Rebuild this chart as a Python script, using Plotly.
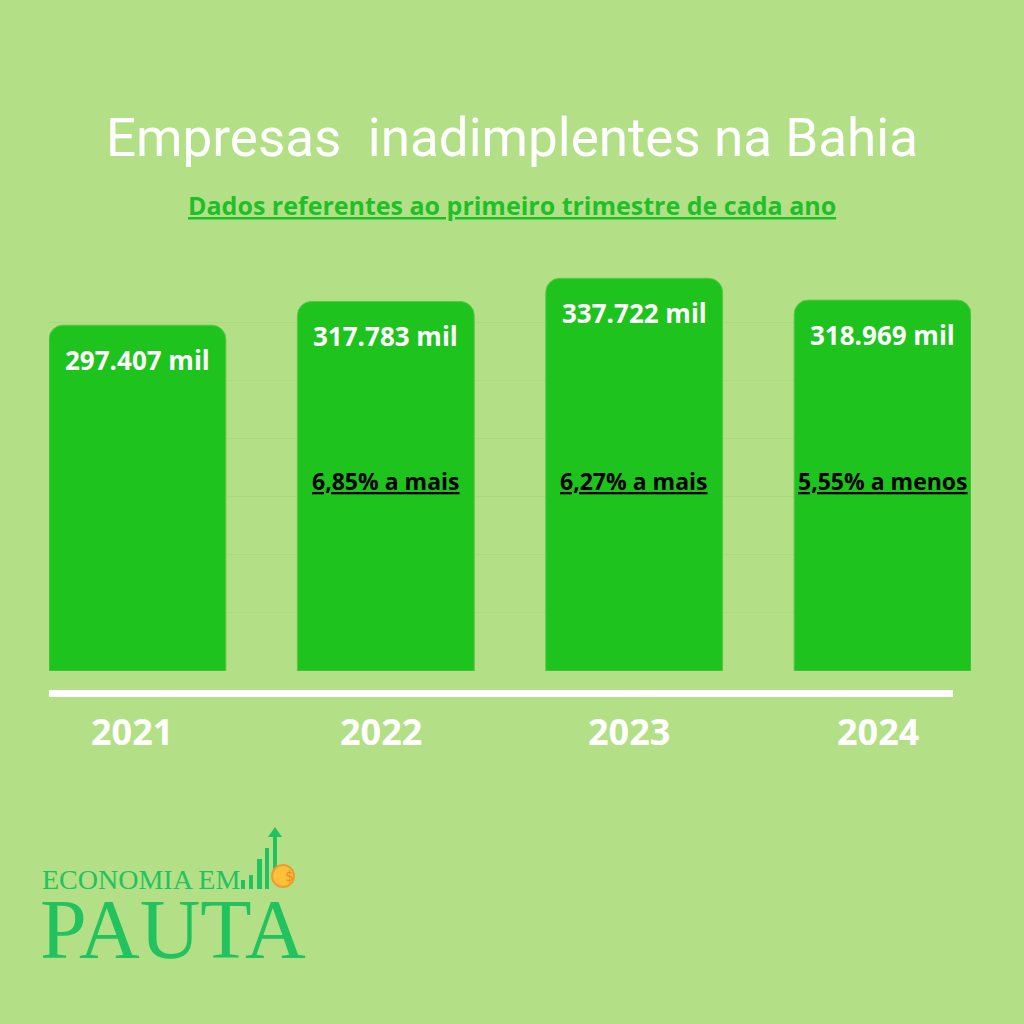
import plotly.graph_objects as go

years = ["2021", "2022", "2023", "2024"]
values = [297.407, 317.783, 337.722, 318.969]  # thousands of companies
value_labels = ["297.407 mil", "317.783 mil", "337.722 mil", "318.969 mil"]
change_labels = ["", "6,85% a mais", "6,27% a mais", "5,55% a menos"]

BG = "#b3e086"
BAR = "#1ec31e"
W = 1024

fig = go.Figure()
fig.add_trace(go.Bar(
    x=years, y=values, width=0.712,
    marker=dict(color=BAR, cornerradius=14, line=dict(color="#5cc84a", width=1)),
    hoverinfo="skip",
))

annotations = []
for i, (v, lbl) in enumerate(zip(values, value_labels)):
    annotations.append(dict(x=i, y=v, xref="x", yref="y", text=f"<b>{lbl}</b>",
                            showarrow=False, yanchor="top", yshift=-15,
                            font=dict(family="Open Sans", size=26, color="white")))
for i, lbl in enumerate(change_labels):
    if lbl:
        annotations.append(dict(x=i, y=1 - 481 / W, xref="x", yref="paper",
                                text=f"<b><u>{lbl}</u></b>", showarrow=False,
                                yanchor="middle",
                                font=dict(family="Open Sans", size=23, color="black")))
for i, yr in enumerate(years):
    annotations.append(dict(x=i, y=1 - 731 / W, xref="x", yref="paper",
                            text=f"<b>{yr}</b>", showarrow=False, yanchor="middle",
                            xshift=-5,
                            font=dict(family="Open Sans", size=36, color="white")))

# title and subtitle
annotations.append(dict(x=0.5, y=1 - 138 / W, xref="paper", yref="paper",
                        text="Empresas  inadimplentes na Bahia", showarrow=False,
                        yanchor="middle",
                        font=dict(family="Roboto", size=53, color="white")))
annotations.append(dict(x=0.5, y=1 - 205 / W, xref="paper", yref="paper",
                        text="<b><u>Dados referentes ao primeiro trimestre de cada ano</u></b>",
                        showarrow=False, yanchor="middle",
                        font=dict(family="Open Sans", size=25, color="#1fbf2a")))

# logo text
LOGO = "#22c35e"
annotations.append(dict(x=40 / W, y=1 - 879 / W, xref="paper", yref="paper",
                        text="ECONOMIA EM", showarrow=False, xanchor="left", yanchor="middle",
                        height=26,
                        font=dict(family="Liberation Serif", size=28, color=LOGO)))
annotations.append(dict(x=38 / W, y=1 - 929 / W, xref="paper", yref="paper",
                        text="PAUTA", showarrow=False, xanchor="left", yanchor="middle",
                        height=74,
                        font=dict(family="Liberation Serif", size=84, color=LOGO)))

shapes = [
    dict(type="rect", xref="paper", yref="paper", x0=49 / W, x1=953 / W,
         y0=1 - 697 / W, y1=1 - 690 / W, fillcolor="white", line=dict(width=0)),
]
# logo icon bars
for (x0, x1, ytop) in [(241, 245, 880), (249, 253, 875), (257, 262, 859), (265, 269, 848)]:
    shapes.append(dict(type="rect", xref="paper", yref="paper", x0=x0 / W, x1=x1 / W,
                       y0=1 - 889 / W, y1=1 - ytop / W, fillcolor=LOGO, line=dict(width=0)))
shapes.append(dict(type="rect", xref="paper", yref="paper", x0=273 / W, x1=277 / W,
                   y0=1 - 870 / W, y1=1 - 836 / W, fillcolor=LOGO, line=dict(width=0)))
shapes.append(dict(type="path", xref="paper", yref="paper",
                   path=f"M {268/W},{1-837/W} L {282/W},{1-837/W} L {275/W},{1-827/W} Z",
                   fillcolor=LOGO, line=dict(width=0)))
shapes.append(dict(type="circle", xref="paper", yref="paper",
                   x0=272 / W, x1=294 / W, y0=1 - 887 / W, y1=1 - 865 / W,
                   fillcolor="#fbc13a", line=dict(color="#f39a2c", width=2)))
annotations.append(dict(x=283 / W, y=1 - 876 / W, xref="paper", yref="paper", text="$",
                        showarrow=False, yanchor="middle",
                        font=dict(family="DejaVu Sans", size=14, color="#f08a24")))

fig.update_layout(
    width=W, height=W, margin=dict(l=0, r=0, t=0, b=0),
    paper_bgcolor=BG, plot_bgcolor=BG, showlegend=False,
    xaxis=dict(type="category", domain=[49 / W, 971 / W], range=[-0.356, 3.356],
               showticklabels=False, showgrid=False, zeroline=False, showline=False,
               fixedrange=True),
    yaxis=dict(domain=[1 - 671 / W, 1 - 264 / W], range=[0, 350], dtick=50,
               showticklabels=False, showgrid=True, gridcolor="#a9da7d", gridwidth=1,
               zeroline=False, showline=False, fixedrange=True),
    annotations=annotations, shapes=shapes,
)
fig.write_html("out.html", config={"displayModeBar": False},
               post_script="document.body.style.margin='0px';document.body.style.overflow='hidden';")
